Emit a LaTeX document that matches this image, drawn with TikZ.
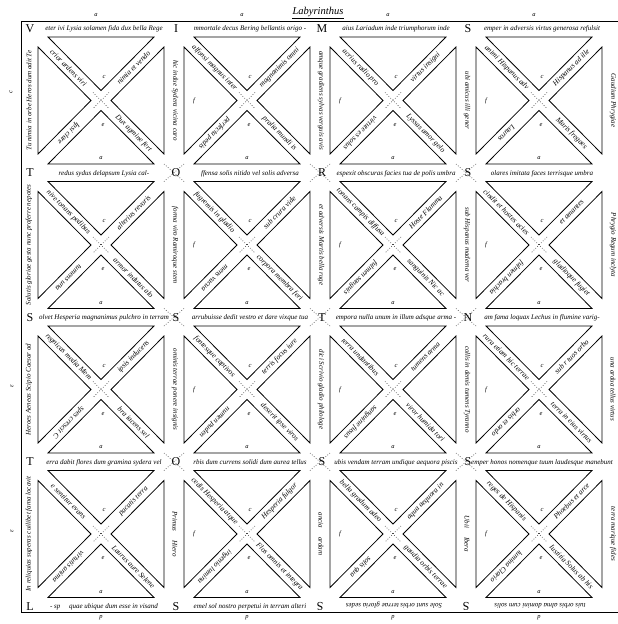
\documentclass[tikz,border=0pt]{standalone}
\usepackage{fontspec}
\setmainfont{Liberation Serif}
\usetikzlibrary{calc}
\tikzset{
    frame/.style={line width=1pt},
    tri/.style={draw, line width=0.8pt, line join=miter},
    trail/.style={dotted, line width=0.6pt},
    strip/.style={font=\fontsize{7}{7}\selectfont\itshape, inner sep=0pt},
    band/.style={font=\fontsize{7.4}{7.4}\selectfont\itshape, inner sep=0pt},
    capital/.style={font=\fontsize{12}{12}\selectfont, inner sep=0pt},
    lab/.style={font=\fontsize{6.5}{6.5}\selectfont\itshape, inner sep=0pt}
}

\begin{document}
\begin{tikzpicture}[x=1pt,y=-1pt]
    \useasboundingbox (0,0) rectangle (618,624);
    % title and frame
    \node [font=\fontsize{10.5}{10.5}\selectfont\itshape, inner sep=0pt] (title) at (318,12) {Labyrinthus};
    \draw [line width=0.6pt] ([yshift=-1.5pt]title.south west) -- ([yshift=-1.5pt]title.south east);
    \draw [frame] (618,21) -- (21,21) -- (21,612) -- (618,612);
    % the sixteen crossed squares
    \foreach \i in {0,...,3}{
        \foreach \j in {0,...,3}{
            \pgfmathsetmacro{\xa}{38+146*\i}
            \pgfmathsetmacro{\xb}{\xa+126}
            \pgfmathsetmacro{\ya}{37+144.5*\j}
            \pgfmathsetmacro{\yb}{\ya+127}
            \pgfmathsetmacro{\cx}{\xa+63}
            \pgfmathsetmacro{\cy}{\ya+63.5}
            \draw [tri] (\xa+10,\ya) -- (\xb-10,\ya) -- (\cx,\cy-10) -- cycle;
            \draw [tri] (\xa+10,\yb) -- (\xb-10,\yb) -- (\cx,\cy+10) -- cycle;
            \draw [tri] (\xa,\ya+10) -- (\xa,\yb-10) -- (\cx-10,\cy) -- cycle;
            \draw [tri] (\xb,\ya+10) -- (\xb,\yb-10) -- (\cx+10,\cy) -- cycle;
            \draw [trail] (\cx-8,\cy-8) -- (\cx+8,\cy+8);
            \draw [trail] (\cx+8,\cy-8) -- (\cx-8,\cy+8);
            \node [lab] (a-\i-\j) at (\cx,\yb-6) {a};
            \node [lab] (c-\i-\j) at (\cx+3,\cy-24) {c};
            \node [lab] (e-\i-\j) at (\cx+2,\cy+24) {e};
        }
    }
    \foreach \i in {1,2,3}{
        \foreach \j in {0,...,3}{
            \node [lab] (f-\i-\j) at (48+146*\i,100.5+144.5*\j) {f};
        }
    }
    % dotted paths through the crossings
    \foreach \i in {1,2,3}{
        \foreach \j in {1,2,3}{
            \draw [trail] (18+146*\i,19.5+144.5*\j) -- (38+146*\i,37+144.5*\j);
            \draw [trail] (38+146*\i,19.5+144.5*\j) -- (18+146*\i,37+144.5*\j);
        }
    }
    % marks outside the frame
    \foreach \i in {0,...,3}{
        \node [lab] (top-\i) at (96+146*\i,15) {a};
        \node [lab] (bot-\i) at (101+146*\i,618) {p};
    }
    \node [lab, rotate=90] (left-0) at (11,92) {c};
    \node [lab, rotate=90] (left-2) at (12,386) {ε};
    \node [lab, rotate=90] (left-3) at (12,531) {ε};
    % initials at the crossings of the strips
    \foreach \i/\j/\t in {0/0/V,1/0/I,2/0/M,3/0/S,0/1/T,1/1/O,2/1/R,3/1/S,
        0/2/S,1/2/S,2/2/T,3/2/N,0/3/T,1/3/O,2/3/S,3/3/S,0/4/L,1/4/S}{
        \node [capital] (cap-\i-\j) at (30+146*\i,28.5+144.5*\j) {\t};
    }
    \node [capital, rotate=180] (cap-2-4) at (320,606) {S};
    \node [capital, rotate=180] (cap-3-4) at (466,606) {S};
    % verses in the horizontal strips
    \foreach \i/\j/\t in {
        0/0/{eter ivi Lysia solamen fida dux bella Rege},
        1/0/{mmortale decus Bering bellantis origo -},
        2/0/{aius Lariadum inde triumphorum inde},
        3/0/{emper in adversis virtus generosa refulsit},
        0/1/{redus sydus delapsum Lysia cal-},
        1/1/{ffensa solis nitido vel solis adversa},
        2/1/{espexit obscuras facies tua de polis umbra},
        3/1/{olares imitata faces terrisque umbra},
        0/2/{olvet Hesperia magnanimus pulchro in terram},
        1/2/{arrubuisse dedit vestro et dare vixque tua},
        2/2/{empora nulla unum in illum adsque arma -},
        3/2/{am fama loquax Lechus in flumine varig-},
        0/3/{erra dabit flores dum gramina sydera vel},
        1/3/{rbis dum currens solidi dum aurea tellus},
        2/3/{ubis vendam terram undique aequora piscis},
        3/3/{emper honos nomenque tuum laudesque manebunt},
        0/4/{- sp \quad quae ubique dum esse in visand},
        1/4/{emel sol nostro perpetui in terram alteri}}{
        \node [strip] (row-\i-\j) at (104+146*\i,29+144.5*\j) {\t};
    }
    \node [strip, rotate=180] (row-2-4) at (394,605.5) {Sole sunt orbis terrae gloria sedes};
    \node [strip, rotate=180] (row-3-4) at (540,605.5) {tuis orbis alma domini cum solis};
    % verses in the vertical strips
    \foreach \j/\t in {
        0/{Tu nimia in orbe Heros dum adit Te},
        1/{Salutis gloriae gesta nunc proferre nepotes},
        2/{Heroes Aeneas Scipio Caesar ad},
        3/{In reliquias superas cuilibet fama locavit}}{
        \node [strip, rotate=90] (col-0-\j) at (29,100.5+144.5*\j) {\t};
    }
    \foreach \i/\j/\t in {
        1/0/{hic indue Sydera vicina caro},
        1/1/{forma viro Ramiroque stem},
        1/2/{ominis terrae ponere insignis},
        1/3/{Primus \quad Hiero},
        2/0/{amque gradiens sylvas verguis avis},
        2/1/{et adversis Martis bella ruge},
        2/2/{dici Scrivio gladio philologe},
        2/3/{ancia \quad ardam},
        3/0/{ubi amicus illi gener},
        3/1/{sub Hispanus maderna ver},
        3/2/{collis in demis tumens Tyranno},
        3/3/{Ubii \quad Ibera},
        4/0/{Gaudium Phrygiae},
        4/1/{Phrygio Regum inclyta},
        4/2/{una ardua tellus virtus},
        4/3/{terra marique fides}}{
        \node [strip, rotate=-90] (col-\i-\j) at (29+146*\i,100.5+144.5*\j) {\t};
    }
    % verses along the diagonal bands
    \foreach \i/\j/\ta/\tb/\tc/\td in {
        0/0/{crior ardens viri}/{nimia et vendo}/{Ipsi clare}/{Dux agmine fert},
        1/0/{alfonsi magnus inter}/{magnanimis omni}/{perfecta pedis}/{pralia mundi is},
        2/0/{acrius radio pro}/{virtus insigni}/{virtute es solus}/{Lyssas amor gelo},
        3/0/{animi Hispanus adv}/{Hispanus ad ille}/{Lauros}/{Maris fregaes},
        0/1/{nive tonans pedibus}/{alterius revoris}/{tumens una}/{armor indutus alo},
        1/1/{fugremis in gladio}/{sub crura vide}/{mens vacua}/{corpora membra feri},
        2/1/{tonans campis diffusa}/{Hoste Flamma}/{fulmen sanguis}/{sanguinis Nic ac},
        3/1/{cindit et hostes acies}/{et amantes}/{fulmen brachia}/{gladioque fugiet},
        0/2/{regnicas media Mem}/{ipsis inducens}/{spes crescit C}/{bra iacens sel},
        1/2/{fontesque captivos}/{terris focus iure}/{numen puden}/{deserit ipse viros},
        2/2/{terra undantibus}/{tumens arma}/{sanguine fusus}/{viror humida tori},
        3/2/{rura etiam hic terrae}/{sub r tuos orbo}/{orbis et ordo}/{terra in eius virtus},
        0/3/{e sentitur evans}/{pacatis terra}/{virtutis anima}/{Laurus aure Selene},
        1/3/{cedis Hesperia atque}/{Hesperia fulgor}/{ingenio lumina}/{Flos omnis et integra},
        2/3/{bella gradum adeo}/{aqua aequora in}/{solis qua}/{gaudia orbis terrae},
        3/3/{reges de Hispanis}/{Phoebus et arce}/{lumina Clario}/{Iustitia Solus ab his}}{
        \pgfmathsetmacro{\xa}{38+146*\i}
        \pgfmathsetmacro{\ya}{37+144.5*\j}
        \node [band, rotate=-45] (tl-\i-\j) at (\xa+30.5,\ya+30.75) {\ta};
        \node [band, rotate=45] (tr-\i-\j) at (\xa+95.5,\ya+30.75) {\tb};
        \node [band, rotate=225] (bl-\i-\j) at (\xa+30.5,\ya+96.25) {\tc};
        \node [band, rotate=-45] (br-\i-\j) at (\xa+95.5,\ya+96.25) {\td};
    }
\end{tikzpicture}
\end{document}
